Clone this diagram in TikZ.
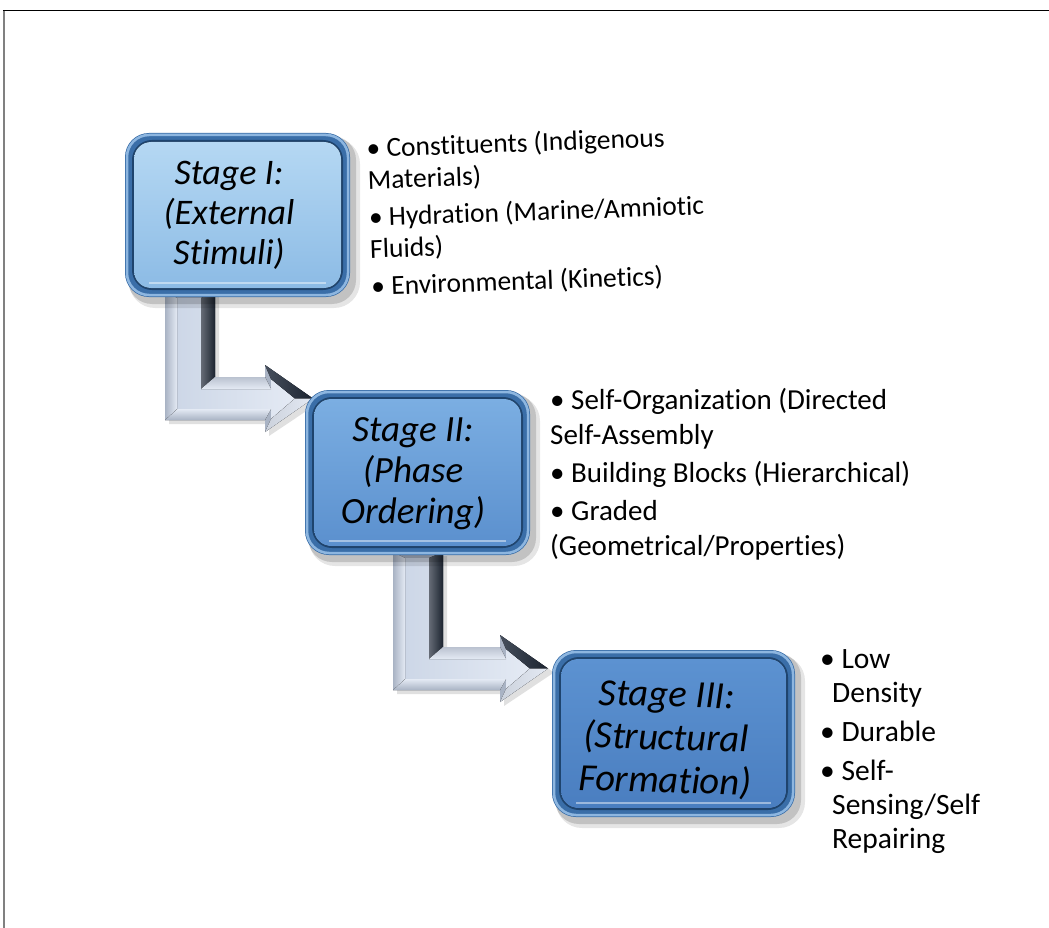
\documentclass[tikz,border=0pt]{standalone}
\usepackage{fontspec}
\setmainfont[Ligatures={NoCommon}]{Carlito}
\usetikzlibrary{calc}
\definecolor{bandc}{HTML}{3A6EA8}
\definecolor{bandlight}{HTML}{8DB6E0}
\definecolor{banddark}{HTML}{1E446E}
\definecolor{inAtop}{HTML}{B5D8F3}
\definecolor{inAbot}{HTML}{8CBBE5}
\definecolor{inBtop}{HTML}{7BAEE2}
\definecolor{inBbot}{HTML}{5B90CE}
\definecolor{inCtop}{HTML}{5C92D1}
\definecolor{inCbot}{HTML}{4A7EC0}
\definecolor{arrlight}{HTML}{E4EAF4}
\definecolor{arrface}{HTML}{CDD7E7}
\definecolor{arrmid}{HTML}{A9B3C4}
\definecolor{arrdark}{HTML}{1C2430}
\newcommand{\stagebg}[6]{%
  \fill[black,opacity=0.10,rounded corners=26pt] (#1+4,#2+5) rectangle (#3+10,#4+11);
  \fill[black,opacity=0.15,rounded corners=24pt] (#1+3,#2+3) rectangle (#3+6,#4+7);
  \fill[bandc,rounded corners=24pt] (#1,#2) rectangle (#3,#4);
  \draw[bandlight,line width=2.5pt,rounded corners=22pt] (#1+2,#2+2) rectangle (#3-2,#4-2);
  \draw[banddark,line width=2pt,rounded corners=19pt] (#1+8,#2+8) rectangle (#3-8,#4-8);
  \fill[rounded corners=17pt,top color=#5,bottom color=#6] (#1+9,#2+9) rectangle (#3-9,#4-9);
  \draw[white,opacity=0.45,line width=1.5pt] (#1+24,#4-14) -- (#3-24,#4-14);
}
\newcommand{\bevarrow}[4]{% #1 x left, #2 y top, #3 bar top y, #4 head back x ; bar bottom = #3+43
  \fill[black,opacity=0.12] (#1+4,#2+4) -- (#1+54,#2+4) -- (#1+54,#3+4) -- (#4+4,#3+4) -- (#4+4,#3-8) -- (#4+54,#3+25.5) -- (#4+4,#3+59) -- (#4+4,#3+47) -- (#1+4,#3+47) -- cycle;
  \fill[arrmid] (#1,#2) -- (#1+50,#2) -- (#1+50,#3) -- (#4,#3) -- (#4,#3-12) -- (#4+48,#3+21.5) -- (#4,#3+55) -- (#4,#3+43) -- (#1,#3+43) -- cycle;
  % inner face
  \fill[left color=arrface,right color=arrlight] (#1+12,#2+6) -- (#1+36,#2+6) -- (#1+36,#3+12) -- (#4+6,#3+12) -- (#4+6,#3+2) -- (#4+30,#3+21.5) -- (#4+6,#3+42) -- (#4+6,#3+32) -- (#1+12,#3+32) -- cycle;
  % right edge of vertical bar (dark)
  \fill[left color=arrmid!60!black,right color=arrdark] (#1+36,#2+6) -- (#1+50,#2) -- (#1+50,#3) -- (#1+36,#3+12) -- cycle;
  % top bevel of horizontal bar
  \fill[top color=arrmid!80!white,bottom color=arrlight] (#1+50,#3) -- (#4,#3) -- (#4+6,#3+12) -- (#1+36,#3+12) -- cycle;
  % upper face of head (dark)
  \fill[left color=arrdark!70!arrmid,right color=arrdark] (#4,#3-12) -- (#4+48,#3+21.5) -- (#4+30,#3+21.5) -- (#4+6,#3+2) -- cycle;
  % lower face of head (light)
  \fill[left color=arrmid!60!white,right color=arrlight] (#4+48,#3+21.5) -- (#4,#3+55) -- (#4+6,#3+42) -- (#4+30,#3+21.5) -- cycle;
  % bottom bevel of horizontal bar
  \fill[top color=arrlight,bottom color=arrmid] (#1,#3+43) -- (#4,#3+43) -- (#4+6,#3+32) -- (#1+12,#3+32) -- cycle;
  % left bevel of vertical bar
  \fill[left color=arrmid,right color=arrlight] (#1,#2) -- (#1+12,#2+6) -- (#1+12,#3+32) -- (#1,#3+43) -- cycle;
}
\tikzset{
  stagetext/.style={align=center,text=black,inner sep=0pt},
  bullets/.style={align=left,anchor=north west,inner sep=0pt,text=black}
}
\begin{document}
\begin{tikzpicture}[x=1pt,y=-1pt]
\useasboundingbox (0,0) rectangle (1049,928);
\fill[white] (0,0) rectangle (1049,928);
\draw[black,line width=1pt] (3,11) -- (1049,11);
\draw[gray,line width=1.3pt] (4,11) -- (4,928);
% arrows
\bevarrow{165}{292}{377}{265}
\bevarrow{393}{552}{647}{500}
% boxes
\stagebg{125}{133}{350}{297}{inAtop}{inAbot}
\stagebg{305}{390}{530}{555}{inBtop}{inBbot}
\stagebg{552}{650}{795}{817}{inCtop}{inCbot}
\node[stagetext,font=\itshape\fontsize{36}{40}\selectfont] (s1) at (229,215) {Stage I:\\(External\\Stimuli)};
\node[stagetext,font=\itshape\fontsize{37}{41}\selectfont] (s2) at (413,474) {Stage II:\\(Phase\\Ordering)};
\node[stagetext,rotate=-1.5,font=\itshape\fontsize{38.5}{43}\selectfont] (s3) at (666,740) {Stage III:\\(Structural\\Formation)};
% bullet lists
\node[bullets,rotate=2,font=\fontsize{27.5}{32}\selectfont] (b1) at (366,137)
  {• Constituents (Indigenous\\ Materials)\\[5pt]• Hydration (Marine/Amniotic\\ Fluids)\\[5pt]• Environmental (Kinetics)};
\node[bullets,font=\fontsize{29}{35}\selectfont] (b2) at (550,388)
  {• Self-Organization (Directed\\ Self-Assembly\\[3pt]• Building Blocks (Hierarchical)\\[3pt]• Graded\\ (Geometrical/Properties)};
\node[bullets,font=\fontsize{29.5}{34}\selectfont] (b3) at (820,649)
  {• Low\\ \hspace*{12pt}Density\\[5pt]• Durable\\[5pt]• Self-\\ \hspace*{12pt}Sensing/Self\\ \hspace*{12pt}Repairing};
\end{tikzpicture}
\end{document}
